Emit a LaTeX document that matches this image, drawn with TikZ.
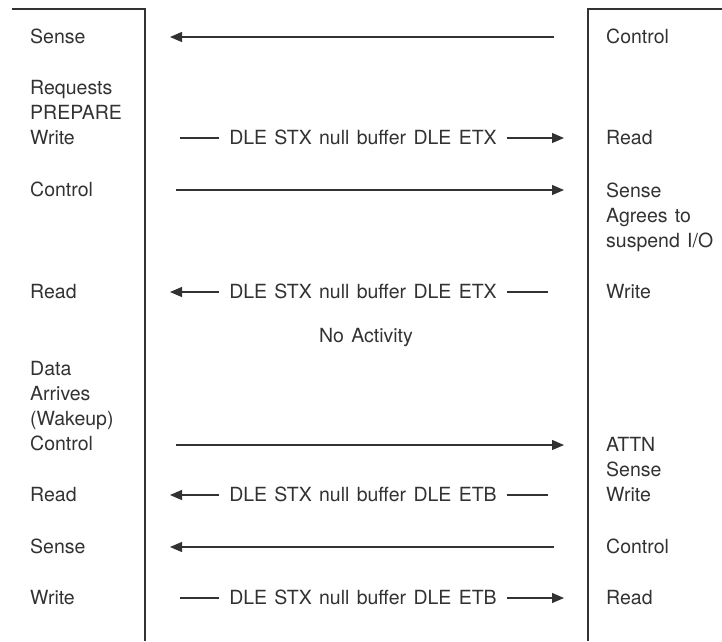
\documentclass[tikz,border=0pt]{standalone}
\usepackage{fontspec}
\setmainfont[WordSpace=1.35]{TeX Gyre Heros}
\usetikzlibrary{arrows.meta, positioning, calc}
\definecolor{inkGray}{RGB}{50,50,50}
\tikzset{
  life/.style={draw=inkGray, line width=1.3pt},
  lbl/.style={anchor=base west, inner sep=0pt, align=left, text=inkGray,
    font=\fontsize{19.5}{24.8}\selectfont},
  msgtxt/.style={inner xsep=10pt, inner ysep=0pt, text height=13pt, text depth=0pt,
    text=inkGray, font=\fontsize{19.5}{24.8}\selectfont},
  msg/.style={draw=inkGray, line width=1.2pt},
  tip/.style={msg, -{Triangle[length=12pt,width=10pt]}},
  toR/.style={tip, shorten <=31pt, shorten >=24pt},
  toL/.style={tip, shorten <=34pt, shorten >=25pt},
  stubL/.style={msg, shorten <=35pt},
  stubR/.style={msg, shorten <=40pt},
}
\begin{document}
\begin{tikzpicture}[x=1pt, y=-1pt]
\useasboundingbox (0,0) rectangle (722,641);

%% -- lifelines -------------------------------------------
\coordinate (Lcap) at (12,9);
\coordinate (Ltop) at (145,9);
\coordinate (Lbot) at (145,641);
\coordinate (Rcap) at (722,9);
\coordinate (Rtop) at (588,9);
\coordinate (Rbot) at (588,641);
\draw[life] (Lcap) -- (Ltop) -- (Lbot);
\draw[life] (Rcap) -- (Rtop) -- (Rbot);

%% -- left side (base = last line) ------------------------
\node[lbl] (lSense1) at (30,43) {Sense};
\node[lbl] (lWrite1) at (30,144) {Requests\\PREPARE\\Write};
\node[lbl] (lCtl1)   at (30,196) {Control};
\node[lbl] (lRead1)  at (30,298) {Read};
\node[lbl] (lData)   at (30,450) {Data\\Arrives\\(Wakeup)\\Control};
\node[lbl] (lRead2)  at (30,501) {Read};
\node[lbl] (lSense2) at (30,553) {Sense};
\node[lbl] (lWrite2) at (30,604) {Write};

%% -- right side ------------------------------------------
\node[lbl] (rCtl1)   at (606,43) {Control};
\node[lbl] (rRead1)  at (606,144) {Read};
\node[lbl] (rSense1) at (606,247) {Sense\\Agrees to\\suspend I/O};
\node[lbl] (rWrite1) at (606,298) {Write};
\node[lbl] (rAttn)   at (606,501) {ATTN\\Sense\\Write};
\node[lbl] (rCtl2)   at (606,553) {Control};
\node[lbl] (rRead2)  at (606,604) {Read};

%% -- messages --------------------------------------------
\coordinate (m1) at (0,37);
\draw[toL] (Rtop|-m1) -- (Ltop|-m1);

\node[msgtxt] (d1) at (363,138) {DLE STX null buffer DLE ETX};
\draw[stubL] (Ltop|-d1) -- (d1.west);
\draw[tip, shorten >=24pt] (d1.east) -- (Rtop|-d1);

\coordinate (m2) at (0,190);
\draw[toR] (Ltop|-m2) -- (Rtop|-m2);

\node[msgtxt] (d2) at (363,292) {DLE STX null buffer DLE ETX};
\draw[stubR] (Rtop|-d2) -- (d2.east);
\draw[tip, shorten >=25pt] (d2.west) -- (Ltop|-d2);

\node[lbl, anchor=base] (idle) at (366,342) {No Activity};

\coordinate (m3) at (0,445);
\draw[toR] (Ltop|-m3) -- (Rtop|-m3);

\node[msgtxt] (d3) at (363,495) {DLE STX null buffer DLE ETB};
\draw[stubR] (Rtop|-d3) -- (d3.east);
\draw[tip, shorten >=25pt] (d3.west) -- (Ltop|-d3);

\coordinate (m4) at (0,547);
\draw[toL] (Rtop|-m4) -- (Ltop|-m4);

\node[msgtxt] (d4) at (363,598) {DLE STX null buffer DLE ETB};
\draw[stubL] (Ltop|-d4) -- (d4.west);
\draw[tip, shorten >=24pt] (d4.east) -- (Rtop|-d4);

\end{tikzpicture}
\end{document}
